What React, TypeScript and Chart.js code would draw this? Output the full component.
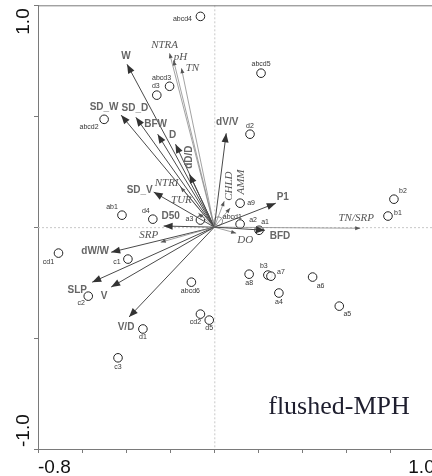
import React, { useEffect, useRef } from 'react';
import { Chart, registerables } from 'chart.js';

Chart.register(...registerables);

// ---- Axis ranges / tick labels ----
const xMin = -0.8;
const xMax = 1.0;
const yMin = -1.0;
const yMax = 1.0;
const xTickLabels = ['-0.8', '1.0'];
const yTickLabels = ['1.0', '-1.0'];
const panelTitle = 'flushed-MPH';

// ---- Variable arrows ----
const arrowNames = ['W', 'NTRA', 'pH', 'TN', 'SD_W', 'SD_D', 'BFW', 'D', 'dD/D', 'dV/V', 'CHLD', 'AMM', 'P1', 'BFD', 'DO', 'TN/SRP', 'NTRI', 'TUR', 'SD_V', 'D50', 'SRP', 'dW/W', 'SLP', 'V', 'V/D'];
const arrowX = [-0.396, -0.203, -0.185, -0.149, -0.423, -0.356, -0.257, -0.176, -0.113, 0.054, 0.045, 0.072, 0.279, 0.23, 0.099, 0.662, -0.153, -0.072, -0.275, -0.23, -0.243, -0.468, -0.554, -0.468, -0.387];
const arrowY = [0.734, 0.784, 0.752, 0.716, 0.505, 0.495, 0.419, 0.374, 0.239, 0.423, 0.117, 0.086, 0.108, -0.014, -0.027, -0.005, 0.18, 0.063, 0.158, 0.005, -0.068, -0.113, -0.248, -0.27, -0.405];
// 'b' = bold (species/structure) arrow, 'i' = italic (environmental) arrow
const arrowKind = ['b', 'i', 'i', 'i', 'b', 'b', 'b', 'b', 'b', 'b', 'i', 'i', 'b', 'b', 'i', 'i', 'i', 'i', 'b', 'b', 'i', 'b', 'b', 'b', 'b'];
// label placement relative to the tip (pixels) and rotation
const arrowLabelDX = [-1, -5, 7, 11, -17, -1, -2, -3, 0, 1, 5, 11, 7, 15, 9, -4, -14, -17, -14, 7, -12, -16, -15, -7, -3];
const arrowLabelDY = [-8, -8, -3, 0, -8, -9, -10, -9, -17, -11, -15, -26, -6, 6, 7, -10, -4, -13, -2, -10, -7, -1, 8, 9, 10];
const arrowLabelRot = [0, 0, 0, 0, 0, 0, 0, 0, 1, 0, 1, 1, 0, 0, 0, 0, 0, 0, 0, 0, 0, 0, 0, 0, 0];

// ---- Samples ----
const sampleNames = ['abcd4', 'abcd5', 'abcd3', 'd3', 'abcd2', 'd2', 'a9', 'abcd1', 'a2', 'a1', 'a3', 'd4', 'ab1', 'cd1', 'c1', 'c2', 'abcd6', 'b3', 'a7', 'a8', 'a4', 'a6', 'a5', 'b2', 'b1', 'cd2', 'd5', 'd1', 'c3'];
const sampleX = [-0.063, 0.212, -0.203, -0.261, -0.5, 0.162, 0.117, 0.018, 0.117, 0.203, -0.063, -0.279, -0.419, -0.707, -0.392, -0.572, -0.104, 0.243, 0.257, 0.158, 0.293, 0.446, 0.567, 0.815, 0.788, -0.063, -0.023, -0.324, -0.437];
const sampleY = [0.95, 0.694, 0.635, 0.595, 0.486, 0.419, 0.108, 0.027, 0.014, -0.014, 0.032, 0.036, 0.054, -0.117, -0.144, -0.311, -0.248, -0.216, -0.221, -0.212, -0.297, -0.225, -0.356, 0.126, 0.05, -0.392, -0.419, -0.459, -0.589];
const sampleLabelDX = [-18, 0, -8, -1, -15, 0, 11, 14, 13, 6, -11, -7, -10, -10, -11, -7, -1, -4, 10, 0, 0, 8, 8, 9, 10, -5, 0, 0, 0];
const sampleLabelDY = [3, -9, -8, -9, 8, -8, 0, -4, -4, -8, -1, -8, -8, 9, 3, 7, 9, -9, -4, 9, 9, 9, 8, -8, -3, 8, 8, 8, 9];

const AXIS_COLOR = '#7a7a7a';

const overlayPlugin = {
  id: 'rdaOverlay',
  beforeDatasetsDraw(chart: any) {
    const { ctx, chartArea } = chart;
    const xs = chart.scales.x;
    const ys = chart.scales.y;
    const x0 = xs.getPixelForValue(0);
    const y0 = ys.getPixelForValue(0);
    ctx.save();
    ctx.strokeStyle = '#c8c8c8';
    ctx.lineWidth = 1;
    ctx.setLineDash([2, 2]);
    ctx.beginPath();
    ctx.moveTo(x0 + 0.5, chartArea.top);
    ctx.lineTo(x0 + 0.5, chartArea.bottom);
    ctx.moveTo(chartArea.left, y0 + 0.5);
    ctx.lineTo(chartArea.right, y0 + 0.5);
    ctx.stroke();
    ctx.setLineDash([]);
    // top frame line
    ctx.strokeStyle = AXIS_COLOR;
    ctx.beginPath();
    ctx.moveTo(chartArea.left, chartArea.top + 0.5);
    ctx.lineTo(chartArea.right, chartArea.top + 0.5);
    ctx.stroke();
    ctx.restore();
  },
  afterDraw(chart: any) {
    const { ctx } = chart;
    const xs = chart.scales.x;
    const ys = chart.scales.y;
    const x0 = xs.getPixelForValue(0);
    const y0 = ys.getPixelForValue(0);
    ctx.save();
    // arrowheads
    arrowNames.forEach((name, i) => {
      const tx = xs.getPixelForValue(arrowX[i]);
      const ty = ys.getPixelForValue(arrowY[i]);
      const ang = Math.atan2(ty - y0, tx - x0);
      const bold = arrowKind[i] === 'b';
      const L = bold ? 9 : 5;
      const W = bold ? 3.5 : 2;
      ctx.fillStyle = bold ? '#333' : '#555';
      ctx.beginPath();
      ctx.moveTo(tx, ty);
      ctx.lineTo(tx - L * Math.cos(ang) + W * Math.sin(ang), ty - L * Math.sin(ang) - W * Math.cos(ang));
      ctx.lineTo(tx - L * Math.cos(ang) - W * Math.sin(ang), ty - L * Math.sin(ang) + W * Math.cos(ang));
      ctx.closePath();
      ctx.fill();
    });
    // arrow labels
    ctx.textAlign = 'center';
    ctx.textBaseline = 'middle';
    arrowNames.forEach((name, i) => {
      const tx = xs.getPixelForValue(arrowX[i]) + arrowLabelDX[i];
      const ty = ys.getPixelForValue(arrowY[i]) + arrowLabelDY[i];
      const bold = arrowKind[i] === 'b';
      ctx.font = bold ? 'bold 10px "Liberation Sans", Arial, sans-serif' : 'italic 11px "Liberation Serif", "Times New Roman", serif';
      ctx.fillStyle = bold ? '#666' : '#555';
      ctx.save();
      ctx.translate(tx, ty);
      if (arrowLabelRot[i]) ctx.rotate(-Math.PI / 2);
      ctx.fillText(name, 0, 0);
      ctx.restore();
    });
    // sample labels
    ctx.font = '7px "Liberation Sans", Arial, sans-serif';
    ctx.fillStyle = '#333';
    sampleNames.forEach((name, i) => {
      const px = xs.getPixelForValue(sampleX[i]) + sampleLabelDX[i];
      const py = ys.getPixelForValue(sampleY[i]) + sampleLabelDY[i];
      ctx.fillText(name, px, py);
    });
    // tick labels
    ctx.fillStyle = '#111';
    ctx.font = '19px "Liberation Sans", Arial, sans-serif';
    ctx.textBaseline = 'alphabetic';
    ctx.textAlign = 'left';
    ctx.fillText(xTickLabels[0], xs.getPixelForValue(xMin), 473);
    ctx.textAlign = 'right';
    ctx.fillText(xTickLabels[1], xs.getPixelForValue(xMax), 473);
    ctx.save();
    ctx.translate(29, ys.getPixelForValue(yMax) + 3);
    ctx.rotate(-Math.PI / 2);
    ctx.textAlign = 'right';
    ctx.fillText(yTickLabels[0], 0, 0);
    ctx.restore();
    ctx.save();
    ctx.translate(29, ys.getPixelForValue(yMin) - 2);
    ctx.rotate(-Math.PI / 2);
    ctx.textAlign = 'left';
    ctx.fillText(yTickLabels[1], 0, 0);
    ctx.restore();
    // panel title
    ctx.font = '26px "Liberation Serif", "Times New Roman", serif';
    ctx.fillStyle = '#1e1e2e';
    ctx.textAlign = 'center';
    ctx.textBaseline = 'middle';
    ctx.fillText(panelTitle, 339, 407);
    ctx.restore();
  },
};

export default function App() {
  const canvasRef = useRef<HTMLCanvasElement | null>(null);

  useEffect(() => {
    const canvas = canvasRef.current;
    if (!canvas) return;
    const arrowDatasets = arrowNames.map((name, i) => ({
      type: 'scatter' as const,
      label: name,
      data: [{ x: 0, y: 0 }, { x: arrowX[i], y: arrowY[i] }],
      showLine: true,
      borderColor: arrowKind[i] === 'b' ? '#4a4a4a' : '#8a8a8a',
      borderWidth: arrowKind[i] === 'b' ? 1 : 0.8,
      pointRadius: 0,
      fill: false,
    }));
    const sampleDataset = {
      type: 'scatter' as const,
      label: 'samples',
      data: sampleNames.map((n, i) => ({ x: sampleX[i], y: sampleY[i] })),
      pointRadius: 4.3,
      pointBackgroundColor: 'rgba(255,255,255,0.9)',
      pointBorderColor: sampleNames.map((n) => (n === 'abcd1' ? '#888' : '#222')),
      pointBorderWidth: 1,
      showLine: false,
    };
    const chart = new Chart(canvas, {
      type: 'scatter',
      data: { datasets: [...arrowDatasets, sampleDataset] as any },
      options: {
        animation: false,
        responsive: false,
        maintainAspectRatio: false,
        devicePixelRatio: 1,
        layout: { padding: { top: 5, right: 2, left: 0, bottom: 0 } },
        plugins: { legend: { display: false }, tooltip: { enabled: false } },
        scales: {
          x: {
            type: 'linear',
            min: xMin,
            max: xMax,
            ticks: { stepSize: 0.2, display: false },
            grid: { drawOnChartArea: false, drawTicks: true, tickLength: 4, color: AXIS_COLOR },
            border: { display: true, color: AXIS_COLOR, width: 1 },
            afterFit: (s: any) => { s.height = 27; },
          },
          y: {
            type: 'linear',
            min: yMin,
            max: yMax,
            ticks: { stepSize: 0.5, display: false },
            grid: { drawOnChartArea: false, drawTicks: true, tickLength: 4, color: AXIS_COLOR },
            border: { display: true, color: AXIS_COLOR, width: 1 },
            afterFit: (s: any) => { s.width = 38; },
          },
        },
      } as any,
      plugins: [overlayPlugin],
    });
    return () => chart.destroy();
  }, []);

  return (
    <div style={{ position: 'absolute', left: 0, top: 0, width: 432, height: 476, overflow: 'hidden', background: '#fff' }}>
      <canvas ref={canvasRef} width={440} height={476} style={{ width: 440, height: 476, display: 'block' }} />
    </div>
  );
}
